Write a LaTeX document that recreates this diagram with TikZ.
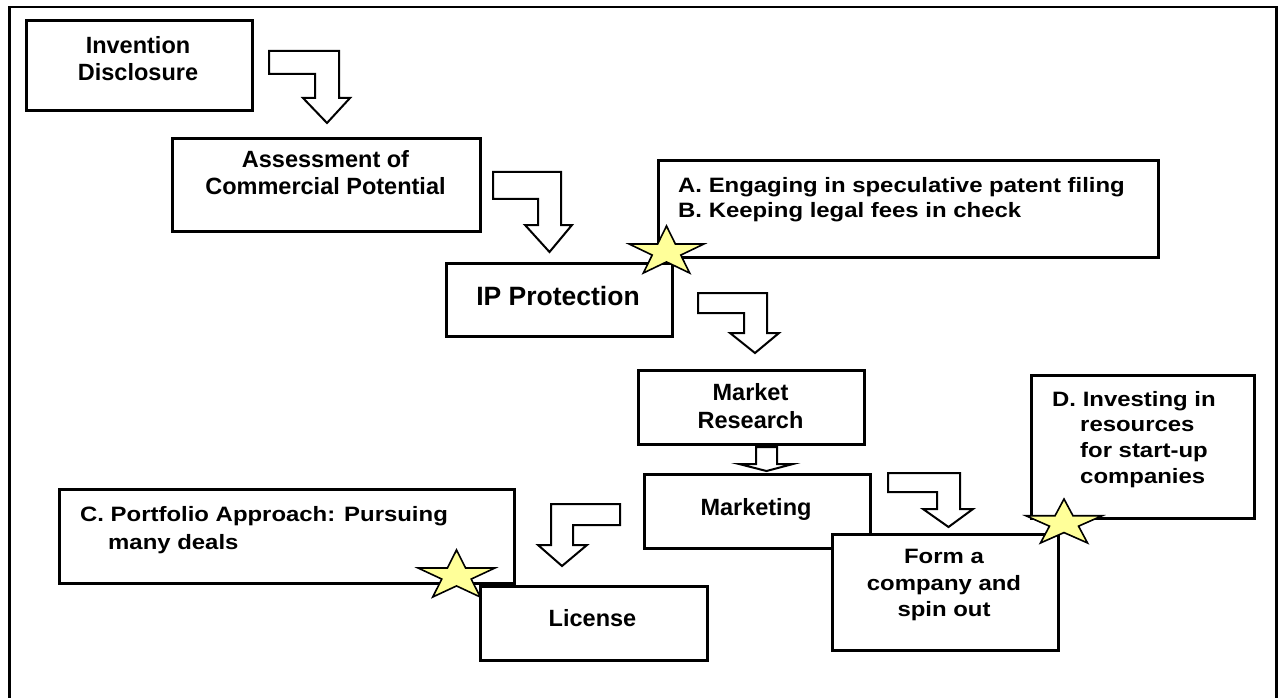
\documentclass[tikz,border=0pt]{standalone}
\usepackage{fontspec}
\setmainfont{Liberation Sans}
\newfontfamily\widefont{Liberation Sans}[FakeStretch=1.15]
\definecolor{staryellow}{RGB}{255,255,153}
\newcommand\drawstar[4]{%
  \begin{scope}[shift={(#1,#2)},xscale=#3,yscale=-#4]
    \draw[starst] (90:1)--(126:0.382)--(162:1)--(198:0.382)--(234:1)--(270:0.382)--(306:1)--(342:0.382)--(18:1)--(54:0.382)--cycle;
  \end{scope}}
\begin{document}
\begin{tikzpicture}[x=1bp,y=-1bp,
  box/.style={draw=black, line width=2.6bp, fill=white, inner sep=0pt, anchor=north west},
  ptxt/.style={font=\bfseries\fontsize{23.5bp}{26.7bp}\selectfont, align=center, inner sep=0pt, anchor=north},
  wtxt/.style={font={\widefont\bfseries\fontsize{20.8bp}{#1}\selectfont}, inner sep=0pt},
  barrow/.style={draw=black, line width=2bp, fill=white, line join=miter},
  starst/.style={draw=black, line width=1.6bp, fill=staryellow, line join=miter},
  frame/.style={draw=black, line width=2.4bp}]
\useasboundingbox (0,0) rectangle (1278,698);
% outer frame
\draw[frame] (9.5,698) -- (9.5,7) -- (1276.5,7) -- (1276.5,698);

% boxes
\node[box, minimum width=226bp, minimum height=90bp] (inv) at (25,19) {};
\node[box, minimum width=308bp, minimum height=93bp] (ass) at (171,137) {};
\node[box, minimum width=500bp, minimum height=97bp] (ab) at (657,159) {};
\node[box, minimum width=226bp, minimum height=73bp] (ip) at (445,262) {};
\node[box, minimum width=226bp, minimum height=74bp] (mr) at (637,369) {};
\node[box, minimum width=223bp, minimum height=143bp] (dd) at (1030,374) {};
\node[box, minimum width=226bp, minimum height=74bp] (mk) at (643,473) {};
\node[box, minimum width=455bp, minimum height=94bp] (cc) at (58,488) {};
\node[box, minimum width=227bp, minimum height=74bp] (lic) at (479,585) {};
\node[box, minimum width=226bp, minimum height=116bp] (form) at (831,533) {};

% texts
\node[ptxt] (invt) at (138,34.6) {\strut Invention\\Disclosure};
\node[ptxt] (asst) at (325.5,149) {\strut Assessment of\\Commercial Potential};
\node[ptxt, font=\bfseries\fontsize{26.5bp}{30bp}\selectfont] (ipt) at (558,284.7) {\strut IP Protection};
\node[ptxt, font=\bfseries\fontsize{23.5bp}{27.5bp}\selectfont] (mrt) at (750.5,381.5) {\strut Market\\Research};
\node[ptxt] (mkt) at (756,496.3) {\strut Marketing};
\node[ptxt] (lict) at (592.5,608) {\strut License};
\node[wtxt=24.6bp, align=left, anchor=north west] (abt) at (678,175.5) {\strut A. Engaging in speculative patent filing\\B. Keeping legal fees in check};
\node[wtxt=27.6bp, align=left, anchor=north west] (cct) at (80,502.4) {\strut C. Portfolio Approach: Pursuing\\\hspace*{28bp}many deals};
\node[wtxt=25.8bp, align=left, anchor=north west] (ddt) at (1052,387.9) {\strut D. Investing in\\\hspace*{28bp}resources\\\hspace*{28bp}for start-up\\\hspace*{28bp}companies};
\node[wtxt=26.7bp, align=center, anchor=north] (formt) at (944,544.6) {\strut Form a\\company and\\spin out};

% block arrows
\draw[barrow] (269,51) -- (339,51) -- (339,98) -- (350,98) -- (327,123) -- (303,98) -- (315,98) -- (315,74) -- (269,74) -- cycle;
\draw[barrow] (493,172) -- (561,172) -- (561,225) -- (572,225) -- (549.5,252) -- (525,225) -- (538,225) -- (538,199) -- (493,199) -- cycle;
\draw[barrow] (698,293) -- (767,293) -- (767,333) -- (779,333) -- (755,353) -- (730,333) -- (744,333) -- (744,313) -- (698,313) -- cycle;
\draw[barrow] (756,447) -- (777,447) -- (777,464) -- (793,464) -- (766.5,471) -- (739,464) -- (756,464) -- cycle;
\draw[barrow] (620,504) -- (620,525) -- (573,525) -- (573,545) -- (587,545) -- (562,566) -- (538,545) -- (551,545) -- (551,504) -- cycle;
\draw[barrow] (888,473) -- (960,473) -- (960,509) -- (973,509) -- (948.5,527) -- (923,509) -- (937,509) -- (937,492) -- (888,492) -- cycle;

% stars
\drawstar{666.5}{252}{39.4}{26}
\drawstar{456.5}{576}{40.5}{26}
\drawstar{1064}{523.3}{40}{24.3}
\end{tikzpicture}
\end{document}
